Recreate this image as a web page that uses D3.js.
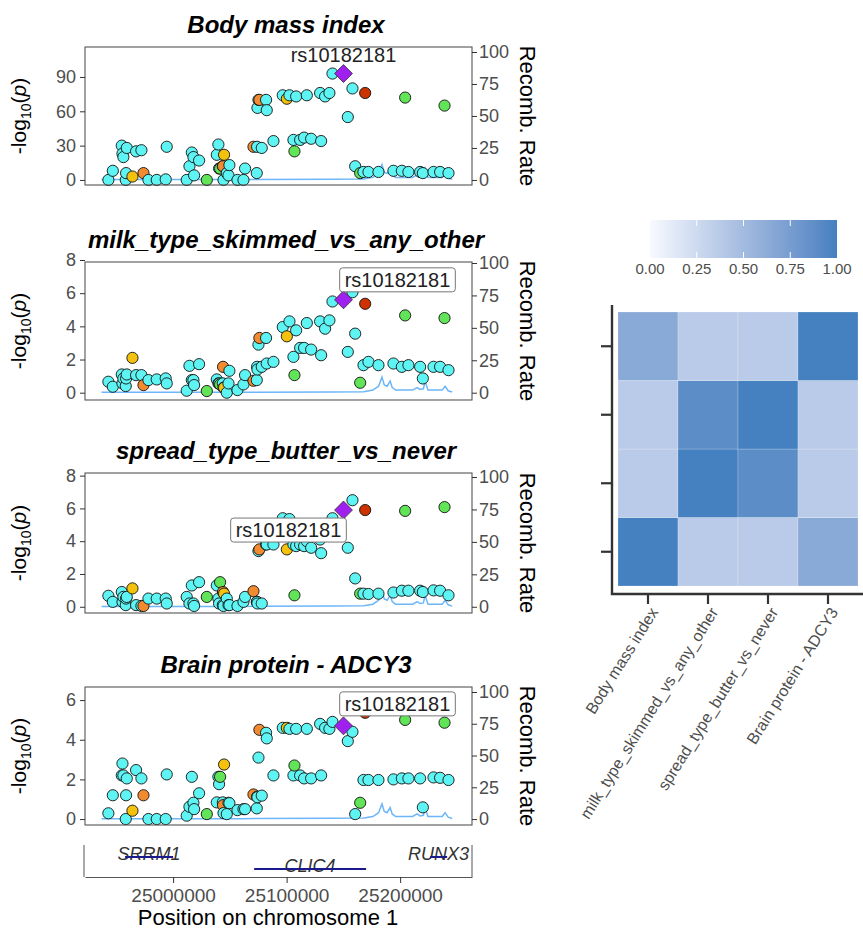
<!DOCTYPE html>
<html>
<head>
<meta charset="utf-8">
<script src="https://cdn.jsdelivr.net/npm/d3@7"></script>
<style>
  body { margin: 0; background: #fff; }
  text { font-family: "Liberation Sans", Arial, sans-serif; }
</style>
</head>
<body>
<script>
// ---------------------------------------------------------------------------
// Data

const snpPos = [
  24943000, 24946900, 24954800, 24955400, 24956200, 24958300, 24958600, 24959200,
  24964200, 24967400, 24972100, 24973900, 24978300, 24985600, 24993500, 24994400,
  25012000, 25014400, 25016500, 25017900, 25018500, 25022900, 25029700, 25038500,
  25039900, 25040500, 25041400, 25043800, 25044000, 25044400, 25044900, 25047300,
  25048800, 25049600, 25056700, 25062000, 25063400, 25070800, 25073700, 25074000,
  25074300, 25075200, 25076000, 25078100, 25081900, 25082500, 25088400, 25096600,
  25100200, 25102500, 25106000, 25106900, 25108400, 25111900, 25115400, 25117800,
  25121600, 25129500, 25130400, 25133900, 25137700, 25140400, 25150100, 25153900,
  25158000, 25160400, 25164800, 25167700, 25169200, 25172100, 25180900, 25194100,
  25201500, 25204400, 25207300, 25217600, 25220000, 25229400, 25235200, 25239100,
  25242600,
];

// LD class of each SNP: c = cyan, g = green, y = yellow, o = orange, r = red, p = lead
const snpLD = [
  'c', 'c', 'c', 'c', 'c', 'c', 'c', 'c',
  'y', 'c', 'c', 'o', 'c', 'c', 'c', 'c',
  'c', 'c', 'c', 'c', 'c', 'c', 'g', 'c',
  'c', 'c', 'g', 'c', 'o', 'c', 'y', 'c',
  'c', 'c', 'c', 'c', 'c', 'o', 'c', 'c',
  'c', 'c', 'o', 'c', 'c', 'c', 'c', 'c',
  'y', 'c', 'c', 'g', 'c', 'c', 'c', 'c',
  'c', 'c', 'c', 'c', 'c', 'c', 'p', 'c',
  'c', 'c', 'g', 'c', 'r', 'c', 'c', 'c',
  'c', 'g', 'c', 'c', 'c', 'c', 'c', 'g',
  'c',
];

const logpBMI = [
  0, 8, 30, 23, 20, 0, 6, 28,
  3, 25, 26, 6, 0, 0, 0.5, 29,
  0, 12, 24, 20, 4, 17, 0, 22,
  31, 10, 10, 12, 12, 0, 22, 6,
  4, 13, 0, 0, 10, 29, 6, 29,
  63, 70, 70, 28, 70, 61, 34, 74,
  71, 74, 35, 25, 73, 35, 37, 74,
  36, 76, 34, 73, 76, 93, 93, 55,
  80, 12, 6, 7, 76, 7, 7, 8,
  8, 72, 7, 7, 6, 7, 7, 65,
  6,
];

const logpMilk = [
  0.66, 0.36, 1.1, 0.56, 0.86, 0.4, 0.86, 1.1,
  2.1, 1.06, 1.06, 0.46, 0.76, 0.8, 0.86, 0.56,
  0.12, 1.62, 0.76, 0.76, 0.46, 1.72, 0.1, 0.8,
  0.56, 0.56, 0.5, 0.56, 1.56, 0.3, 0.3, 0,
  0.56, 1.32, 0.16, 0.5, 1.06, 0.72, 0.76, 1.56,
  1.4, 2.9, 3.3, 1.56, 3.3, 1.76, 1.86, 3.96,
  3.4, 4.3, 2.16, 1.06, 3.76, 2.7, 2.7, 4.2,
  2.6, 4.3, 2.26, 3.86, 4.36, 5.5, 5.6, 2.46,
  6.06, 3.56, 0.6, 1.66, 5.36, 1.86, 1.66, 1.76,
  1.56, 4.66, 1.66, 1.56, 0.86, 1.56, 1.56, 4.5,
  1.36,
];

const logpSpread = [
  0.67, 0.3, 0.9, 0.3, 0.6, 0.1, 0.5, 0.6,
  1.12, 0.1, 0.05, 0.05, 0.5, 0.5, 0.5, 0.2,
  0.6, 0.2, 1.3, 0.2, 0.05, 1.5, 0.6, 1.3,
  0.5, 0.2, 1.5, 0.1, 0.9, 0.05, 0.8, 0.5,
  0.1, 0.1, 0.05, 0.3, 0.6, 0.95, 0.3, 0.3,
  0.2, 3.4, 3.5, 0.2, 3.8, 3.8, 3.8, 5.4,
  3.5, 5.35, 3.8, 0.7, 3.7, 3.8, 3.7, 4.0,
  3.6, 4.1, 3.27, 4.5, 4.5, 5.4, 5.9, 3.6,
  6.5, 1.73, 0.8, 0.8, 5.9, 0.78, 0.8, 0.87,
  0.98, 5.85, 0.98, 0.98, 0.9, 1.0, 0.98, 6.08,
  0.7,
];

const logpADCY3 = [
  0.29, 1.2, 2.2, 2.8, 2.2, 0, 1.2, 2.05,
  0.42, 2.47, 2.05, 1.2, 0, 0, 0, 2.25,
  0.17, 0.62, 2.13, 0.82, 0.5, 1.3, 0.25, 0.84,
  2.13, 1.76, 2.13, 0.84, 0.7, 0.3, 2.75, 0.25,
  0.82, 0.8, 0.45, 0.5, 0.5, 1.24, 0.54, 1.13,
  1.1, 3.1, 4.5, 1.18, 4.35, 4.07, 2.2, 4.6,
  4.6, 4.55, 2.2, 2.7, 4.55, 2.2, 2.05, 4.55,
  2.05, 4.8, 2.2, 4.6, 4.55, 4.9, 4.7, 3.93,
  4.4, 0.25, 0.82, 1.97, 5.36, 1.97, 1.97, 2.0,
  2.05, 5.0, 2.05, 2.05, 0.59, 2.1, 2.08, 4.86,
  1.97,
];

const recombPos = [
  24937000, 25060000, 25140000, 25168000, 25176000, 25181000, 25184000, 25186000,
  25188500, 25191200, 25193000, 25196000, 25211000, 25215000, 25217500, 25220500,
  25222000, 25224500, 25237000, 25239600, 25242300, 25245800,
];
const recombRate = [
  0.3, 0.3, 0.6, 0.8, 2, 5, 12, 6,
  5, 9, 4, 2, 2, 4, 2.5, 3,
  9, 2, 2, 5, 1.5, 0.5,
];

const geneNames = ['SRRM1', 'CLIC4', 'RUNX3'];
const geneStart = [24957700, 25071400, 25226400];
const geneEnd = [25000000, 25170000, 25241400];
const geneRow = [0, 1, 0];

const leadSNP = 'rs10182181';
const traits = ['Body mass index', 'milk_type_skimmed_vs_any_other',
  'spread_type_butter_vs_never', 'Brain protein - ADCY3'];
const traitValues = [logpBMI, logpMilk, logpSpread, logpADCY3];
const traitTicks = [[0, 30, 60, 90], [0, 2, 4, 6, 8], [0, 2, 4, 6, 8], [0, 2, 4, 6]];
const recombTicks = [0, 25, 50, 75, 100];
const posTicks = [25000000, 25100000, 25200000];

// colocalisation matrix, rows/cols in the order of traits
const coloc = [
  [1.00, 0.37, 0.37, 0.65],
  [0.37, 1.00, 0.89, 0.37],
  [0.37, 0.89, 1.00, 0.37],
  [0.65, 0.37, 0.37, 1.00],
];
const colorbarTicks = [0, 0.25, 0.5, 0.75, 1];

// ---------------------------------------------------------------------------
// Layout and style

const ldColour = {
  c: '#5EF4F4', g: '#62E458', y: '#F4C20D', o: '#F28B30', r: '#CC3300', p: '#A020F0',
};

// one entry per locus panel: box top/bottom, y domain, where 100 of recomb sits,
// and where the lead label goes relative to the lead SNP
const panelLayout = [
  { top: 47, bottom: 185, yDomain: [-4.4, 116.2], recTop: 52, lab: [0, -19], boxed: false },
  { top: 262, bottom: 400, yDomain: [-0.44, 7.88], recTop: 263, lab: [54, -20], boxed: true },
  { top: 473, bottom: 613, yDomain: [-0.38, 8.16], recTop: 477, lab: [-55, 20], boxed: true },
  { top: 687, bottom: 825, yDomain: [-0.3, 6.66], recTop: 692, lab: [54, -22], boxed: true },
];

const width = 863;
const height = 938;
const plotLeft = 85;
const plotRight = 472;

const svg = d3.select('body').append('svg')
  .attr('width', width)
  .attr('height', height);

const x = d3.scaleLinear()
  .domain([24922400, 25263300])
  .range([plotLeft, plotRight]);

const snps = snpPos.map((pos, i) => ({ pos, ld: snpLD[i], i }));

const styleAxis = (g, size) => {
  g.select('.domain').remove();
  g.selectAll('.tick line').attr('stroke', '#333');
  g.selectAll('.tick text')
    .attr('fill', '#4d4d4d')
    .style('font-size', `${size}px`);
};

// ---------------------------------------------------------------------------
// Locus panels

panelLayout.forEach((p, k) => {
  const vals = traitValues[k];
  const y = d3.scaleLinear().domain(p.yDomain).range([p.bottom, p.top]);
  const rec = d3.scaleLinear().domain([0, 100]).range([y(0), p.recTop]);
  const g = svg.append('g').attr('class', `panel-${k}`);

  // title
  g.append('text')
    .attr('x', 286)
    .attr('y', p.top - 14)
    .attr('text-anchor', 'middle')
    .style('font-size', '24px')
    .style('font-weight', 'bold')
    .style('font-style', 'italic')
    .text(traits[k]);

  // recombination rate line
  const recLine = d3.line()
    .x((d) => x(d))
    .y((d, i) => rec(recombRate[i]));
  g.append('path')
    .attr('d', recLine(recombPos))
    .attr('fill', 'none')
    .attr('stroke', '#6CB6F9')
    .attr('stroke-width', 1.5);

  // SNPs
  const others = snps.filter((d) => d.ld !== 'p');
  g.append('g')
    .selectAll('circle')
    .data(others)
    .join('circle')
    .attr('cx', (d) => x(d.pos))
    .attr('cy', (d) => y(vals[d.i]))
    .attr('r', 5.6)
    .attr('fill', (d) => ldColour[d.ld])
    .attr('stroke', '#111')
    .attr('stroke-width', 0.9);

  const lead = snps.find((d) => d.ld === 'p');
  const lx = x(lead.pos);
  const ly = y(vals[lead.i]);
  g.append('path')
    .attr('d', d3.symbol().type(d3.symbolSquare).size(160)())
    .attr('transform', `translate(${lx},${ly}) rotate(45)`)
    .attr('fill', ldColour.p)
    .attr('stroke', '#333')
    .attr('stroke-width', 0.8);

  // panel border
  g.append('rect')
    .attr('x', plotLeft)
    .attr('y', p.top)
    .attr('width', plotRight - plotLeft)
    .attr('height', p.bottom - p.top)
    .attr('fill', 'none')
    .attr('stroke', '#555')
    .attr('stroke-width', 1.1);

  // axes
  g.append('g')
    .attr('transform', `translate(${plotLeft},0)`)
    .call(d3.axisLeft(y).tickValues(traitTicks[k]).tickFormat(d3.format('d'))
      .tickSize(5).tickPadding(4))
    .call(styleAxis, 18);

  g.append('g')
    .attr('transform', `translate(${plotRight},0)`)
    .call(d3.axisRight(rec).tickValues(recombTicks).tickFormat(d3.format('d'))
      .tickSize(5).tickPadding(2))
    .call(styleAxis, 18);

  // axis titles
  const cy = (p.top + p.bottom) / 2;
  const ylab = g.append('text')
    .attr('transform', `translate(26,${cy}) rotate(-90)`)
    .attr('text-anchor', 'middle')
    .style('font-size', '21px');
  ylab.append('tspan').text('-log');
  ylab.append('tspan').attr('dy', 5).style('font-size', '14px').text('10');
  ylab.append('tspan').attr('dy', -5).text('(');
  ylab.append('tspan').style('font-style', 'italic').text('p');
  ylab.append('tspan').text(')');

  g.append('text')
    .attr('transform', `translate(520,${cy}) rotate(90)`)
    .attr('text-anchor', 'middle')
    .style('font-size', '22px')
    .text('Recomb. Rate');

  // lead SNP label
  const tx = lx + p.lab[0];
  const ty = ly + p.lab[1];
  const label = g.append('g');
  const t = label.append('text')
    .attr('x', tx)
    .attr('y', ty)
    .attr('dy', '0.35em')
    .attr('text-anchor', 'middle')
    .attr('fill', '#222')
    .style('font-size', '20px')
    .text(leadSNP);
  if (p.boxed) {
    const bb = t.node().getBBox();
    label.insert('rect', 'text')
      .attr('x', bb.x - 5)
      .attr('y', bb.y - 1)
      .attr('width', bb.width + 10)
      .attr('height', bb.height + 2)
      .attr('rx', 3)
      .attr('fill', '#fff')
      .attr('stroke', '#777')
      .attr('stroke-width', 1);
  }
});

// ---------------------------------------------------------------------------
// Gene track

const geneTop = 845;
const geneBottom = 877;
const laneY = [857, 869];

const gt = svg.append('g').attr('class', 'genes');
[plotLeft - 1, plotRight].forEach((gx) => {
  gt.append('line')
    .attr('x1', gx).attr('x2', gx)
    .attr('y1', geneTop).attr('y2', geneBottom)
    .attr('stroke', '#555');
});

geneNames.forEach((name, i) => {
  const yy = laneY[geneRow[i]];
  gt.append('text')
    .attr('x', (x(geneStart[i]) + x(geneEnd[i])) / 2)
    .attr('y', yy + 3)
    .attr('text-anchor', 'middle')
    .attr('fill', '#333')
    .style('font-size', '18px')
    .style('font-style', 'italic')
    .text(name);
  gt.append('line')
    .attr('x1', x(geneStart[i]))
    .attr('x2', x(geneEnd[i]))
    .attr('y1', yy).attr('y2', yy)
    .attr('stroke', '#1a1a8c')
    .attr('stroke-width', 2);
});

const xAxis = gt.append('g')
  .attr('transform', `translate(0,${geneBottom})`)
  .call(d3.axisBottom(x).tickValues(posTicks).tickFormat(d3.format('d'))
    .tickSize(6).tickSizeOuter(0).tickPadding(6));
xAxis.select('.domain').attr('stroke', '#555');
xAxis.selectAll('.tick line').attr('stroke', '#333');
xAxis.selectAll('.tick text').attr('fill', '#4d4d4d').style('font-size', '19px');

gt.append('text')
  .attr('x', 268)
  .attr('y', 925)
  .attr('text-anchor', 'middle')
  .style('font-size', '22px')
  .text('Position on chromosome 1');

// ---------------------------------------------------------------------------
// Coloc heatmap

const colour = d3.scaleLinear()
  .domain([0, 1])
  .range(['#F7FAFF', '#4580C0'])
  .interpolate(d3.interpolateLab);

const hx = d3.scaleBand().domain(traits).range([618, 858]);
const hy = d3.scaleBand().domain(traits).range([586, 312]);

const cells = [];
traits.forEach((a, i) => traits.forEach((b, j) => cells.push({ a, b, v: coloc[j][i] })));

const hm = svg.append('g').attr('class', 'heatmap');
hm.selectAll('rect')
  .data(cells)
  .join('rect')
  .attr('x', (d) => hx(d.a))
  .attr('y', (d) => hy(d.b))
  .attr('width', hx.bandwidth())
  .attr('height', hy.bandwidth())
  .attr('fill', (d) => colour(d.v))
  .attr('stroke', 'rgba(255,255,255,0.35)')
  .attr('stroke-width', 0.6);

const hyAxis = hm.append('g')
  .attr('transform', 'translate(612,0)')
  .call(d3.axisLeft(hy).tickSize(11).tickSizeOuter(0).tickFormat(''));
hyAxis.select('.domain').remove();
hyAxis.selectAll('.tick line').attr('stroke', '#333').attr('stroke-width', 2.2);

const hxAxis = hm.append('g')
  .attr('transform', 'translate(0,594)')
  .call(d3.axisBottom(hx).tickSize(10).tickSizeOuter(0).tickFormat(''));
hxAxis.select('.domain').remove();
hxAxis.selectAll('.tick line').attr('stroke', '#333').attr('stroke-width', 2.2);

hm.append('path')
  .attr('d', d3.line()([[612, 305], [612, 594], [863, 594]]))
  .attr('fill', 'none')
  .attr('stroke', '#333')
  .attr('stroke-width', 2.4);

hm.append('g')
  .selectAll('text')
  .data(traits)
  .join('text')
  .attr('transform', (d) => `translate(${hx(d) + hx.bandwidth() / 2 + 6},609) rotate(-58)`)
  .attr('text-anchor', 'end')
  .attr('dy', '0.35em')
  .attr('fill', '#4d4d4d')
  .style('font-size', '16px')
  .text((d) => d);

// colour bar
const cb = d3.scaleLinear().domain([0, 1]).range([650, 837]);
const grad = svg.append('defs').append('linearGradient').attr('id', 'cbar');
d3.range(0, 1.01, 0.1).forEach((s) => {
  grad.append('stop').attr('offset', `${s * 100}%`).attr('stop-color', colour(s));
});
const cbTop = 220;
const cbBottom = 258;
svg.append('rect')
  .attr('x', cb(0))
  .attr('y', cbTop)
  .attr('width', cb(1) - cb(0))
  .attr('height', cbBottom - cbTop)
  .attr('fill', 'url(#cbar)');

const cbg = svg.append('g').attr('class', 'colorbar');
cbg.selectAll('line.top')
  .data(colorbarTicks.slice(1, -1))
  .join('line')
  .attr('x1', (d) => cb(d)).attr('x2', (d) => cb(d))
  .attr('y1', cbTop).attr('y2', cbTop + 6)
  .attr('stroke', '#fff').attr('stroke-width', 1);
cbg.selectAll('line.bot')
  .data(colorbarTicks.slice(1, -1))
  .join('line')
  .attr('x1', (d) => cb(d)).attr('x2', (d) => cb(d))
  .attr('y1', cbBottom - 6).attr('y2', cbBottom)
  .attr('stroke', '#fff').attr('stroke-width', 1);
cbg.selectAll('text')
  .data(colorbarTicks)
  .join('text')
  .attr('x', (d) => cb(d))
  .attr('y', 274)
  .attr('text-anchor', 'middle')
  .attr('fill', '#4d4d4d')
  .style('font-size', '15px')
  .text(d3.format('.2f'));
</script>
</body>
</html>
